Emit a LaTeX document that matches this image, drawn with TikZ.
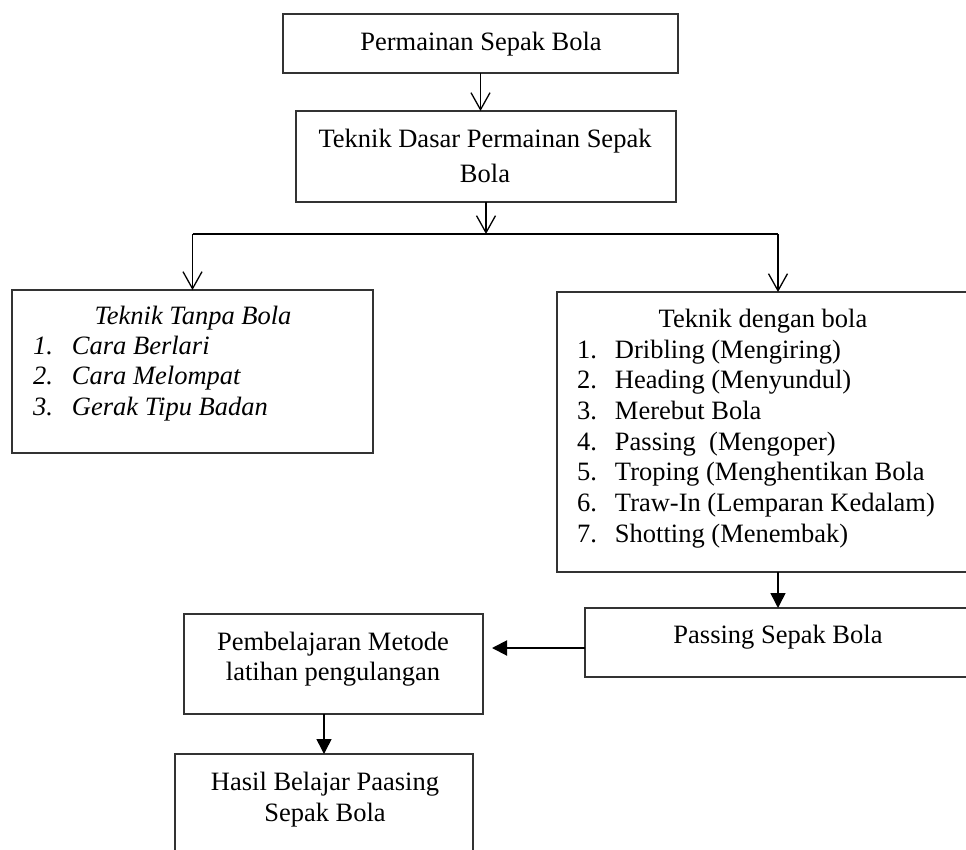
\documentclass[tikz,border=0pt]{standalone}
\usepackage{fontspec}
\setmainfont{Liberation Serif}
\usetikzlibrary{arrows.meta}
\newcommand\bodyfont{\fontsize{26.5}{30.7}\selectfont}
\tikzset{
  box/.style={draw=black!80,line width=1.3pt,inner sep=0pt,outer sep=0pt,rectangle},
  txt/.style={inner sep=0pt,outer sep=0pt,font=\bodyfont,anchor=base},
  openarr/.style={draw=black,line width=1.3pt,-{Straight Barb[length=17pt,width=19pt]}},
  fillarr/.style={draw=black,line width=1.5pt,-{Triangle[length=15pt,width=15pt]}},
  joinline/.style={draw=black,line width=1.8pt},
}
\begin{document}
\begin{tikzpicture}[x=1pt,y=-1pt]
\useasboundingbox (0,0) rectangle (966,849);
\clip (0,0) rectangle (966,849);
\fill[white] (0,0) rectangle (966,849);

% boxes
\node[box,minimum width=395pt,minimum height=59pt] (b1) at (480.5,43.5) {};
\node[box,minimum width=380pt,minimum height=91pt] (b2) at (486,156.5) {};
\node[box,minimum width=361pt,minimum height=163pt] (bl) at (192.5,371.5) {};
\node[box,minimum width=412pt,minimum height=280pt] (br) at (763,432) {};
\node[box,minimum width=386pt,minimum height=69pt] (bp) at (778,642.5) {};
\node[box,minimum width=299pt,minimum height=100pt] (bm) at (333.5,664) {};
\node[box,minimum width=298pt,minimum height=130pt] (bh) at (324,819) {};

% texts
\node[txt] (t1) at (481,50) {Permainan Sepak Bola};
\node[txt] (t2a) at (485,147) {Teknik Dasar Permainan Sepak};
\node[txt] (t2b) at (485,182) {Bola};

\node[txt,font=\bodyfont\itshape] (tl) at (193,324) {Teknik Tanpa Bola};
\node[txt,font=\bodyfont\itshape,anchor=base west] (ll) at (33,354)
  {\begin{tabular}[t]{@{}p{39pt}@{}l@{}}
   1. & Cara Berlari\\
   2. & Cara Melompat\\
   3. & Gerak Tipu Badan
   \end{tabular}};

\node[txt] (tr) at (763,327) {Teknik dengan bola};
\node[txt,anchor=base west] (lr) at (577,358)
  {\begin{tabular}[t]{@{}p{38pt}@{}l@{}}
   1. & Dribling (Mengiring)\\
   2. & Heading (Menyundul)\\
   3. & Merebut Bola\\
   4. & Passing~ (Mengoper)\\
   5. & Troping (Menghentikan Bola\\
   6. & Traw-In (Lemparan Kedalam)\\
   7. & Shotting (Menembak)
   \end{tabular}};

\node[txt] (tp) at (778,643) {Passing Sepak Bola};
\node[txt] (tm1) at (333,650) {Pembelajaran Metode};
\node[txt] (tm2) at (333,680) {latihan pengulangan};
\node[txt] (th1) at (325,790) {Hasil Belajar Paasing};
\node[txt] (th2) at (325,821) {Sepak Bola};

% connectors
\coordinate (hy) at (0,234);
\coordinate (j) at (b2.south |- hy);
\coordinate (jl) at (bl.north |- hy);
\coordinate (jr) at (bp.north |- hy);
\draw[openarr] (b1.south) -- (b1.south |- b2.north);
\draw[openarr] (b2.south) -- (j);
\draw[joinline] (jl) -- (jr);
\draw[openarr] (jl) -- (bl.north);
\draw[openarr] (jr) -- (jr |- br.north);
\draw[fillarr] (bp.north |- br.south) -- (bp.north);
\coordinate (pw) at ([yshift=-5.5pt]bp.west);
\coordinate (me) at ([xshift=9pt]bm.east);
\draw[fillarr,line width=2pt] (pw) -- (me |- pw);
\draw[fillarr] (bh.north |- bm.south) -- (bh.north);
\end{tikzpicture}
\end{document}
